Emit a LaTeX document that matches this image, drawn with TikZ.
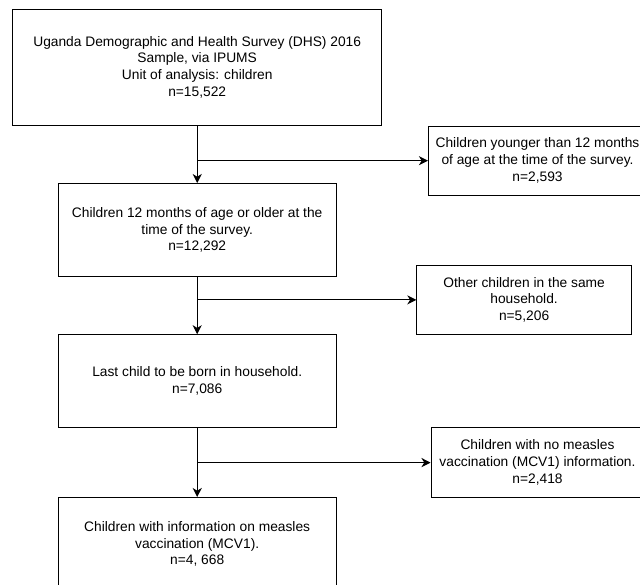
\documentclass[tikz,border=0pt]{standalone}
\usepackage{fontspec}
\setmainfont{Liberation Sans}
\usetikzlibrary{positioning, arrows.meta}

\begin{document}
\begin{tikzpicture}[
  stage/.style={
    draw=black, fill=white, line width=0.7pt,
    minimum width=6.94cm, minimum height=2.32cm,
    font=\fontsize{9.8}{12}\selectfont, align=center, inner sep=3pt
  },
  excluded/.style={
    draw=black, fill=white, line width=0.7pt,
    minimum height=1.73cm, anchor=west,
    font=\fontsize{9.8}{12}\selectfont, align=center, inner sep=3pt
  },
  arr/.style={-{Stealth[length=6.5pt, width=6.5pt, inset=2pt]}, black, line width=0.7pt}
]
  \clip (-4.93,1.68) rectangle (11.07,-12.92);
  \node[stage, minimum width=9.22cm, minimum height=2.89cm] (sample) at (0,0) {%
    Uganda Demographic and Health Survey (DHS) 2016\\
    Sample, via IPUMS\\
    Unit of analysis: children\\
    n=15,522};
  \node[stage, below=1.44cm of sample] (older) {%
    Children 12 months of age or older at the\\
    time of the survey.\\
    n=12,292};
  \node[stage, below=1.435cm of older] (lastborn) {%
    Last child to be born in household.\\
    n=7,086};
  \node[stage, below=1.725cm of lastborn] (mcv) {%
    Children with information on measles\\
    vaccination (MCV1).\\
    n=4, 668};
  % Exclusions
  \coordinate[below=0.88cm of sample] (j1);
  \coordinate[below=0.575cm of older] (j2);
  \coordinate[below=0.8625cm of lastborn] (j3);
  \node[excluded, right=5.77cm of j1, minimum width=5.45cm] (younger) {%
    Children younger than 12 months\\
    of age at the time of the survey.\\
    n=2,593};
  \node[excluded, right=5.48cm of j2, minimum width=5.36cm, minimum height=1.72cm] (siblings) {%
    Other children in the same\\
    household.\\
    n=5,206};
  \node[excluded, right=5.835cm of j3, minimum width=5.32cm] (nomcv) {%
    Children with no measles\\
    vaccination (MCV1) information.\\
    n=2,418};
  \draw[arr] (sample) -- (older);
  \draw[arr] (older) -- (lastborn);
  \draw[arr] (lastborn) -- (mcv);
  \draw[arr] (j1) -- (younger);
  \draw[arr] (j2) -- (siblings);
  \draw[arr] (j3) -- (nomcv);
\end{tikzpicture}
\end{document}
